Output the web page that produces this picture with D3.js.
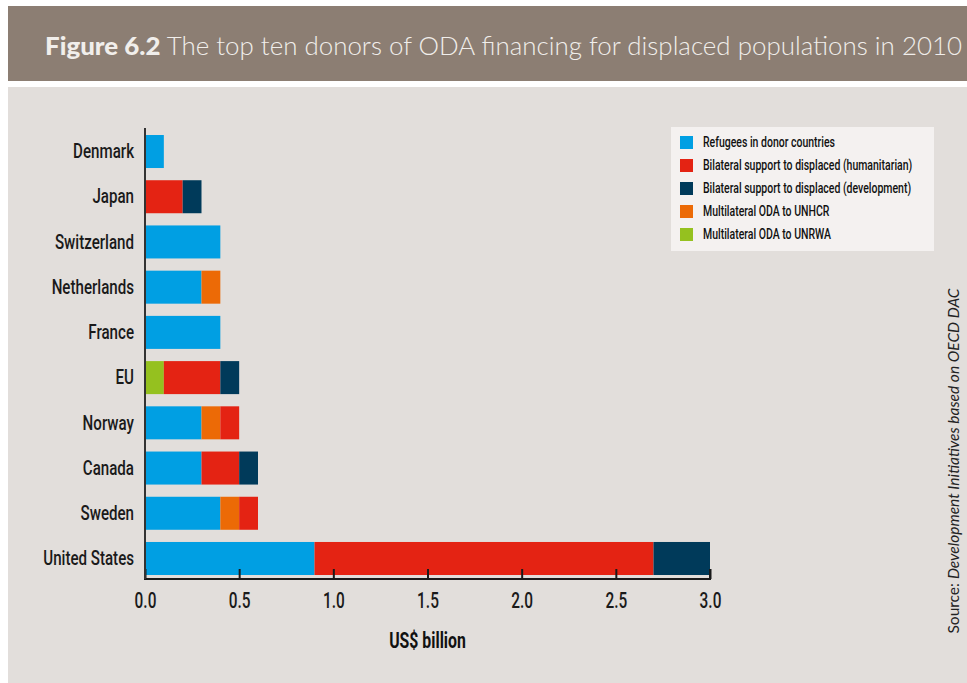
<!DOCTYPE html>
<html>
<head>
<meta charset="utf-8">
<script src="https://cdn.jsdelivr.net/npm/d3@7"></script>
<style>
  body { margin: 0; background: #fff; }
  svg { display: block; }
  .cond { font-family: Roboto, "DejaVu Sans", sans-serif; font-weight: 500; }
</style>
</head>
<body>
<div id="chart"></div>
<script>
// countries, top to bottom
var countries = ["Denmark", "Japan", "Switzerland", "Netherlands", "France", "EU", "Norway", "Canada", "Sweden", "United States"];

// US$ billion per category, same order as countries
var refugees     = [0.1, 0,   0.4, 0.3, 0.4, 0,   0.3, 0.3, 0.4, 0.9];
var humanitarian = [0,   0.2, 0,   0,   0,   0.3, 0.1, 0.2, 0.1, 1.8];
var development  = [0,   0.1, 0,   0,   0,   0.1, 0,   0.1, 0,   0.3];
var unhcr        = [0,   0,   0,   0.1, 0,   0,   0.1, 0,   0.1, 0];
var unrwa        = [0,   0,   0,   0,   0,   0.1, 0,   0,   0,   0];

var xTicks = [0, 0.5, 1.0, 1.5, 2.0, 2.5, 3.0];

var series = [
    {key: "refugees", label: "Refugees in donor countries", color: "#009fe3", values: refugees},
    {key: "humanitarian", label: "Bilateral support to displaced (humanitarian)", color: "#e42313", values: humanitarian},
    {key: "development", label: "Bilateral support to displaced (development)", color: "#003a5a", values: development},
    {key: "unhcr", label: "Multilateral ODA to UNHCR", color: "#ec6a06", values: unhcr},
    {key: "unrwa", label: "Multilateral ODA to UNRWA", color: "#95c11f", values: unrwa}
];
// order the segments are stacked in, left to right
var stackOrder = ["unrwa", "refugees", "unhcr", "humanitarian", "development"];

// squeeze text horizontally to fake the condensed face of the original
function condense(sel, f) {
    sel.each(function () {
        var t = d3.select(this);
        var x0 = +t.attr("x") || 0;
        t.attr("x", x0 / f).attr("transform", "scale(" + f + ",1)");
    });
}

var W = 967, H = 683;
var svg = d3.select("#chart").append("svg").attr("width", W).attr("height", H);

// title banner + panel
svg.append("rect").attr("x", 8).attr("y", 6).attr("width", W - 8).attr("height", 75).attr("fill", "#8c7e73");
svg.append("rect").attr("x", 8).attr("y", 87).attr("width", W - 8).attr("height", H - 87).attr("fill", "#e2dedb");

var title = svg.append("text")
    .attr("x", 45).attr("y", 55)
    .attr("fill", "#f1eeeb")
    .style("font-family", "Lato, sans-serif")
    .style("font-size", "25.5px");
title.append("tspan").style("font-weight", "900").text("Figure 6.2 ");
title.append("tspan").style("font-weight", "300").text("The top ten donors of ODA financing for displaced populations in 2010");
title.attr("textLength", 917).attr("lengthAdjust", "spacingAndGlyphs");

var margin = {left: 145, top: 128};

var g = svg.append("g").attr("transform", "translate(" + margin.left + "," + margin.top + ")");

var x = d3.scaleLinear().domain([0, 3]).range([0, 565]);
var y = d3.scaleBand().domain(countries).range([0, 454]).paddingInner(0.27).paddingOuter(0.155);

var rows = countries.map(function (c, i) {
    var r = {country: c};
    series.forEach(function (s) { r[s.key] = s.values[i]; });
    return r;
});
var colorOf = {};
series.forEach(function (s) { colorOf[s.key] = s.color; });

var stacked = d3.stack().keys(stackOrder)(rows);

g.selectAll("g.layer")
    .data(stacked)
    .enter().append("g")
    .attr("class", "layer")
    .attr("fill", function (d) { return colorOf[d.key]; })
    .selectAll("rect")
    .data(function (d) { return d; })
    .enter().append("rect")
    .attr("x", function (d) { return x(d[0]); })
    .attr("y", function (d) { return y(d.data.country); })
    .attr("width", function (d) { return x(d[1]) - x(d[0]); })
    .attr("height", y.bandwidth());

// x axis with ticks pointing up
var xAxis = g.append("g")
    .attr("transform", "translate(0,451)")
    .call(d3.axisBottom(x).tickValues(xTicks).tickFormat(d3.format(".1f")).tickSize(-10).tickPadding(13));
xAxis.select(".domain").attr("d", "M0,-10V0H" + x(3) + "V-10").attr("stroke", "#1a1a1a").attr("stroke-width", 2);
xAxis.selectAll(".tick line").attr("stroke", "#1a1a1a").attr("stroke-width", 2);
xAxis.selectAll(".tick text")
    .attr("class", "cond")
    .attr("fill", "#1a1a1a")
    .style("font-size", "22px")
    .call(condense, 0.7);

// y axis line and labels
var yAxis = g.append("g")
    .call(d3.axisLeft(y).tickSize(0).tickPadding(11));
yAxis.select(".domain").attr("d", "M0,0V451").attr("stroke", "#333").attr("stroke-width", 2);
yAxis.selectAll(".tick text")
    .attr("class", "cond")
    .attr("fill", "#1a1a1a")
    .style("font-size", "21px")
    .call(condense, 0.72);

g.append("text")
    .attr("class", "cond")
    .attr("x", x(1.5)).attr("y", 520)
    .attr("text-anchor", "middle")
    .attr("fill", "#111")
    .style("font-size", "22px")
    .style("font-weight", "bold")
    .text("US$ billion")
    .call(condense, 0.72);

// legend
var legend = svg.append("g").attr("transform", "translate(671,127)");
legend.append("rect").attr("width", 263).attr("height", 124).attr("fill", "#f4f1f0");
var item = legend.selectAll("g.item")
    .data(series)
    .enter().append("g")
    .attr("class", "item")
    .attr("transform", function (d, i) { return "translate(9," + (9 + i * 23) + ")"; });
item.append("rect").attr("width", 13).attr("height", 13).attr("fill", function (d) { return d.color; });
item.append("text")
    .attr("class", "cond")
    .attr("x", 23).attr("y", 11)
    .attr("fill", "#111")
    .style("font-size", "14px")
    .text(function (d) { return d.label; })
    .call(condense, 0.75);

// source
svg.append("text")
    .attr("transform", "translate(959,461) rotate(-90)")
    .attr("text-anchor", "middle")
    .attr("fill", "#222")
    .style("font-family", "Lato, sans-serif")
    .style("font-size", "15.5px")
    .html("Source: <tspan font-style='italic'>Development Initiatives based on OECD DAC</tspan>");
</script>
</body>
</html>
